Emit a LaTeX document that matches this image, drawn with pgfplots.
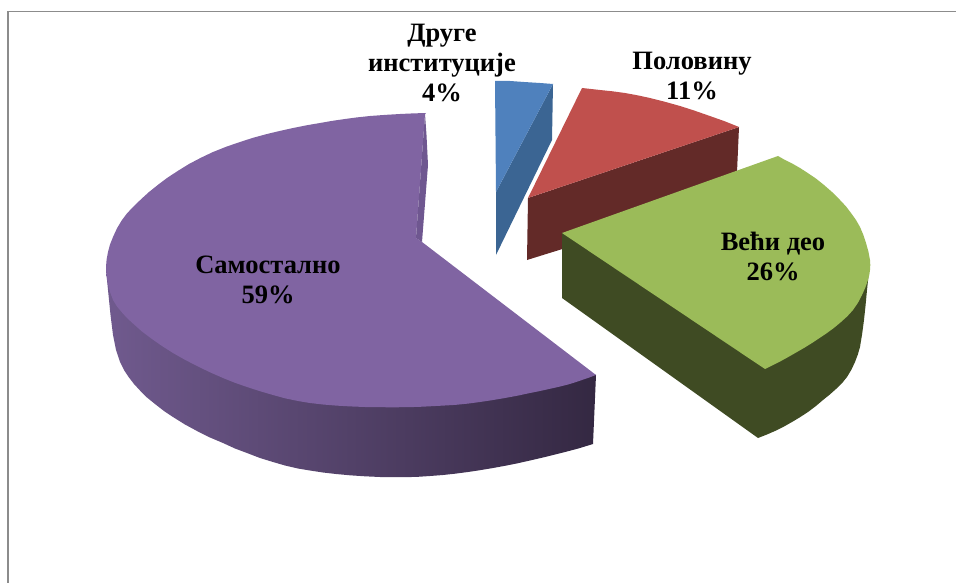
\documentclass[border=0pt]{standalone}
\usepackage{pgfplots}
\pgfplotsset{compat=1.18}
\usepackage{fontspec}
\setmainfont{Liberation Serif}
\definecolor{ptop}{HTML}{8064A2}
\definecolor{pl}{HTML}{705A8E}
\definecolor{pm}{HTML}{54416B}
\definecolor{pr}{HTML}{342842}
\definecolor{psl}{HTML}{6F5790}
\definecolor{gtop}{HTML}{9BBB59}
\definecolor{gside}{HTML}{3F4B23}
\definecolor{rtop}{HTML}{C0504D}
\definecolor{rside}{HTML}{632A28}
\definecolor{btop}{HTML}{4F81BD}
\definecolor{bside}{HTML}{3B6593}
\definecolor{frame}{HTML}{8C8C8C}
\begin{document}
\begin{tikzpicture}
\path[use as bounding box] (0,0) rectangle (956pt,583pt);
\begin{axis}[
  at={(0,0)}, anchor=south west,
  hide axis, scale only axis, width=956pt, height=583pt,
  xmin=0, xmax=956, ymin=0, ymax=583, y dir=reverse, clip=true,
  every axis plot/.append style={line join=round}
]
% frame
\addplot[frame, line width=2.4pt, forget plot] coordinates {(8,583) (8,11)};
\addplot[frame, line width=1.3pt, forget plot] coordinates {(7,11.5) (956,11.5)};
% blue
\addplot[fill=bside, draw=none] coordinates {(553,84) (552,140) (496,255) (496,192)} --cycle;
\addplot[fill=btop, draw=none] coordinates {(495,81) (510,81) (524,82) (540,83) (553,84) (496,192)} --cycle;
% red
\addplot[fill=rside, draw=none] coordinates {(528,198) (739,127) (736,195) (527,260)} --cycle;
\addplot[fill=rtop, draw=none] coordinates {(582,88) (591,89) (600,90) (612.5,91.3) (625,93) (637.5,95.3) (650,98) (665,101.8) (680,106) (693.5,110.3) (707,115) (715.5,118) (724,121) (731.5,124) (739,127) (528,198)} --cycle;
% green
\addplot[fill=gside, draw=none] coordinates {(562,233) (562,298) (758,438) (766.5,434.7) (775,431) (783.5,426.8) (792,422) (800,417.2) (808,412) (815.7,406.2) (823,400) (829.7,394.6) (836,389) (842,383.2) (847,377) (851.4,369.7) (855,362) (857.8,354.6) (860,347) (862.2,333.5) (864,320) (865.6,305) (867,290) (868.5,276) (870,263) (765,300)} --cycle;
\addplot[fill=gtop, draw=none] coordinates {(778,156) (785,160) (793,164) (800,168) (807,172.5) (816,178.6) (824,185) (832,192) (840,200) (846,206.4) (851,213) (856,220) (860,227) (863.4,235) (866,243) (868.4,251.5) (870,260) (870.3,265) (870,270) (869.3,275) (868,280) (865.3,287.7) (862,295) (858,302.7) (853,310) (847.4,316.2) (841,322) (834.2,327.7) (827,333) (819.6,338) (812,343) (804.6,347.6) (797,352) (789,356.6) (781,361) (773,365) (765,369) (562,233)} --cycle;
% purple
\addplot[left color=pl, middle color=pm, right color=pr, draw=none] coordinates {(106,267) (107,280) (108.5,295) (110.5,315) (113,335) (116,350) (120,362) (124,370) (129,377.5) (134,384) (140,390.5) (147,397.5) (155,404) (164,411) (173,417) (185,424.5) (197,431) (210,437.5) (223,443) (235,448.5) (247,453) (260,458) (273,462) (285,465.5) (298,468.5) (310,470.5) (323,472.5) (336,474) (350,475.3) (365,476.3) (380,477) (392,477.2) (405,477.2) (418,476.8) (430,476) (443,475) (455,473.7) (468,472) (480,470.2) (492,468.2) (505,465.8) (518,463.2) (530,460.5) (546,456.8) (562,452.8) (578,448.6) (593,444) (596,375) (300,300)} --cycle;
\addplot[fill=ptop, draw=none] coordinates {(426,113) (413,113.4) (400,114) (385,114.9) (370,116) (357,117.4) (345,119) (332,120.9) (320,123) (306,125.4) (293,128) (280,130.9) (267,134) (253,137.8) (240,142) (226,146.8) (213,152) (201,157.7) (189,164) (178,170.8) (167,178) (158,184.8) (149,192) (141,199.3) (133,207) (127,213.4) (122,220) (117,228.3) (113,237) (110,244.5) (108,252) (106.6,259.5) (106,267) (106.5,276) (108,284) (110,292) (113,300) (117,306.5) (122,312.5) (127,318) (133,323.5) (142,331.5) (152,339) (162,346) (173,353) (185,359.8) (197,366) (210,372.3) (223,378) (235,382.8) (247,387) (260,391.2) (273,395) (285,398.3) (298,401) (310,403) (323,404.5) (336,405.6) (350,406.4) (365,407) (380,407.2) (392,407.3) (405,407.2) (418,406.9) (430,406.3) (443,405.6) (455,404.9) (468,403.6) (480,402) (492,400.2) (505,398) (518,395.6) (530,393) (540,391) (549,389) (558,387) (567,384.8) (575,382.4) (582,380) (589,377.6) (596,375) (422,242) (416,238) (425,114)} --cycle;
\addplot[fill=psl, draw=none] coordinates {(425,114) (426.5,135) (428,165) (422,242) (416,238)} --cycle;
% labels
\node[font=\fontsize{26.5}{30}\selectfont\bfseries, align=center, text=black] at (axis cs:442,63) {Друге\\институције\\4\%};
\node[font=\fontsize{26.5}{30}\selectfont\bfseries, align=center, text=black] at (axis cs:692,76) {Половину\\11\%};
\node[font=\fontsize{26.5}{30}\selectfont\bfseries, align=center, text=black] at (axis cs:773,256) {Већи део\\26\%};
\node[font=\fontsize{26.5}{30}\selectfont\bfseries, align=center, text=black] at (axis cs:268,280) {Самостално\\59\%};
\end{axis}
\end{tikzpicture}
\end{document}
